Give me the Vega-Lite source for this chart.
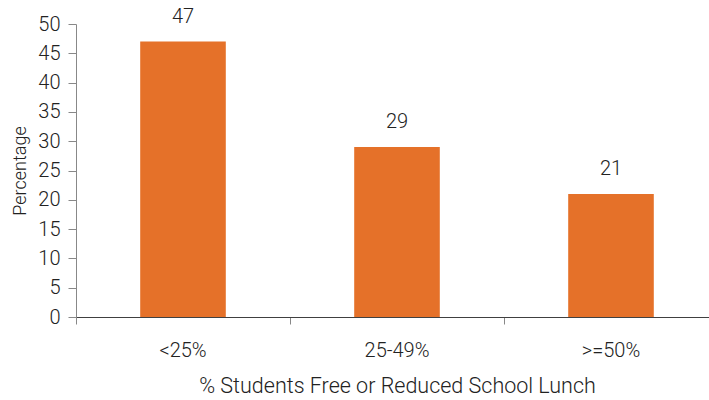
{
  "$schema": "https://vega.github.io/schema/vega-lite/v6.json",
  "autosize": {"type": "none"},
  "padding": {"left": 76, "top": 24, "right": 0, "bottom": 83},
  "width": 642,
  "height": 293,
  "background": "white",
  "config": {
    "view": {"stroke": null},
    "font": "Roboto",
    "axis": {"grid": false}
  },
  "data": {
    "values": [
      {"group": "<25%", "pct": 47},
      {"group": "25-49%", "pct": 29},
      {"group": ">=50%", "pct": 21}
    ]
  },
  "encoding": {
    "x": {
      "field": "group", "type": "nominal", "sort": null,
      "scale": {"paddingInner": 0.6, "paddingOuter": 0.3},
      "axis": {
        "title": "% Students Free or Reduced School Lunch",
        "titleFontSize": 21.5, "titleFontWeight": 300, "titleColor": "#222222",
        "titlePadding": 15,
        "labelAngle": 0, "labelFontSize": 20, "labelFontWeight": 300, "labelColor": "#222222", "labelPadding": 16,
        "bandPosition": -0.744, "tickSize": 7, "tickColor": "#888888", "tickWidth": 1,
        "domainColor": "#404040", "domainWidth": 1.2
      }
    },
    "y": {
      "field": "pct", "type": "quantitative",
      "scale": {"domain": [0, 50], "nice": false},
      "axis": {
        "title": "Percentage", "titleFontSize": 18, "titleFontWeight": 300, "titleColor": "#222222",
        "titlePadding": 8,
        "values": [0, 5, 10, 15, 20, 25, 30, 35, 40, 45, 50],
        "labelFontSize": 20, "labelFontWeight": 300, "labelColor": "#222222", "labelPadding": 8,
        "tickSize": 8, "tickColor": "#888888", "domainColor": "#888888"
      }
    }
  },
  "layer": [
    {"mark": {"type": "bar", "color": "#E57129"}},
    {
      "mark": {"type": "text", "dy": -25, "fontSize": 20, "fontWeight": 300, "color": "#222222", "baseline": "middle"},
      "encoding": {"text": {"field": "pct", "type": "quantitative"}}
    }
  ]
}
